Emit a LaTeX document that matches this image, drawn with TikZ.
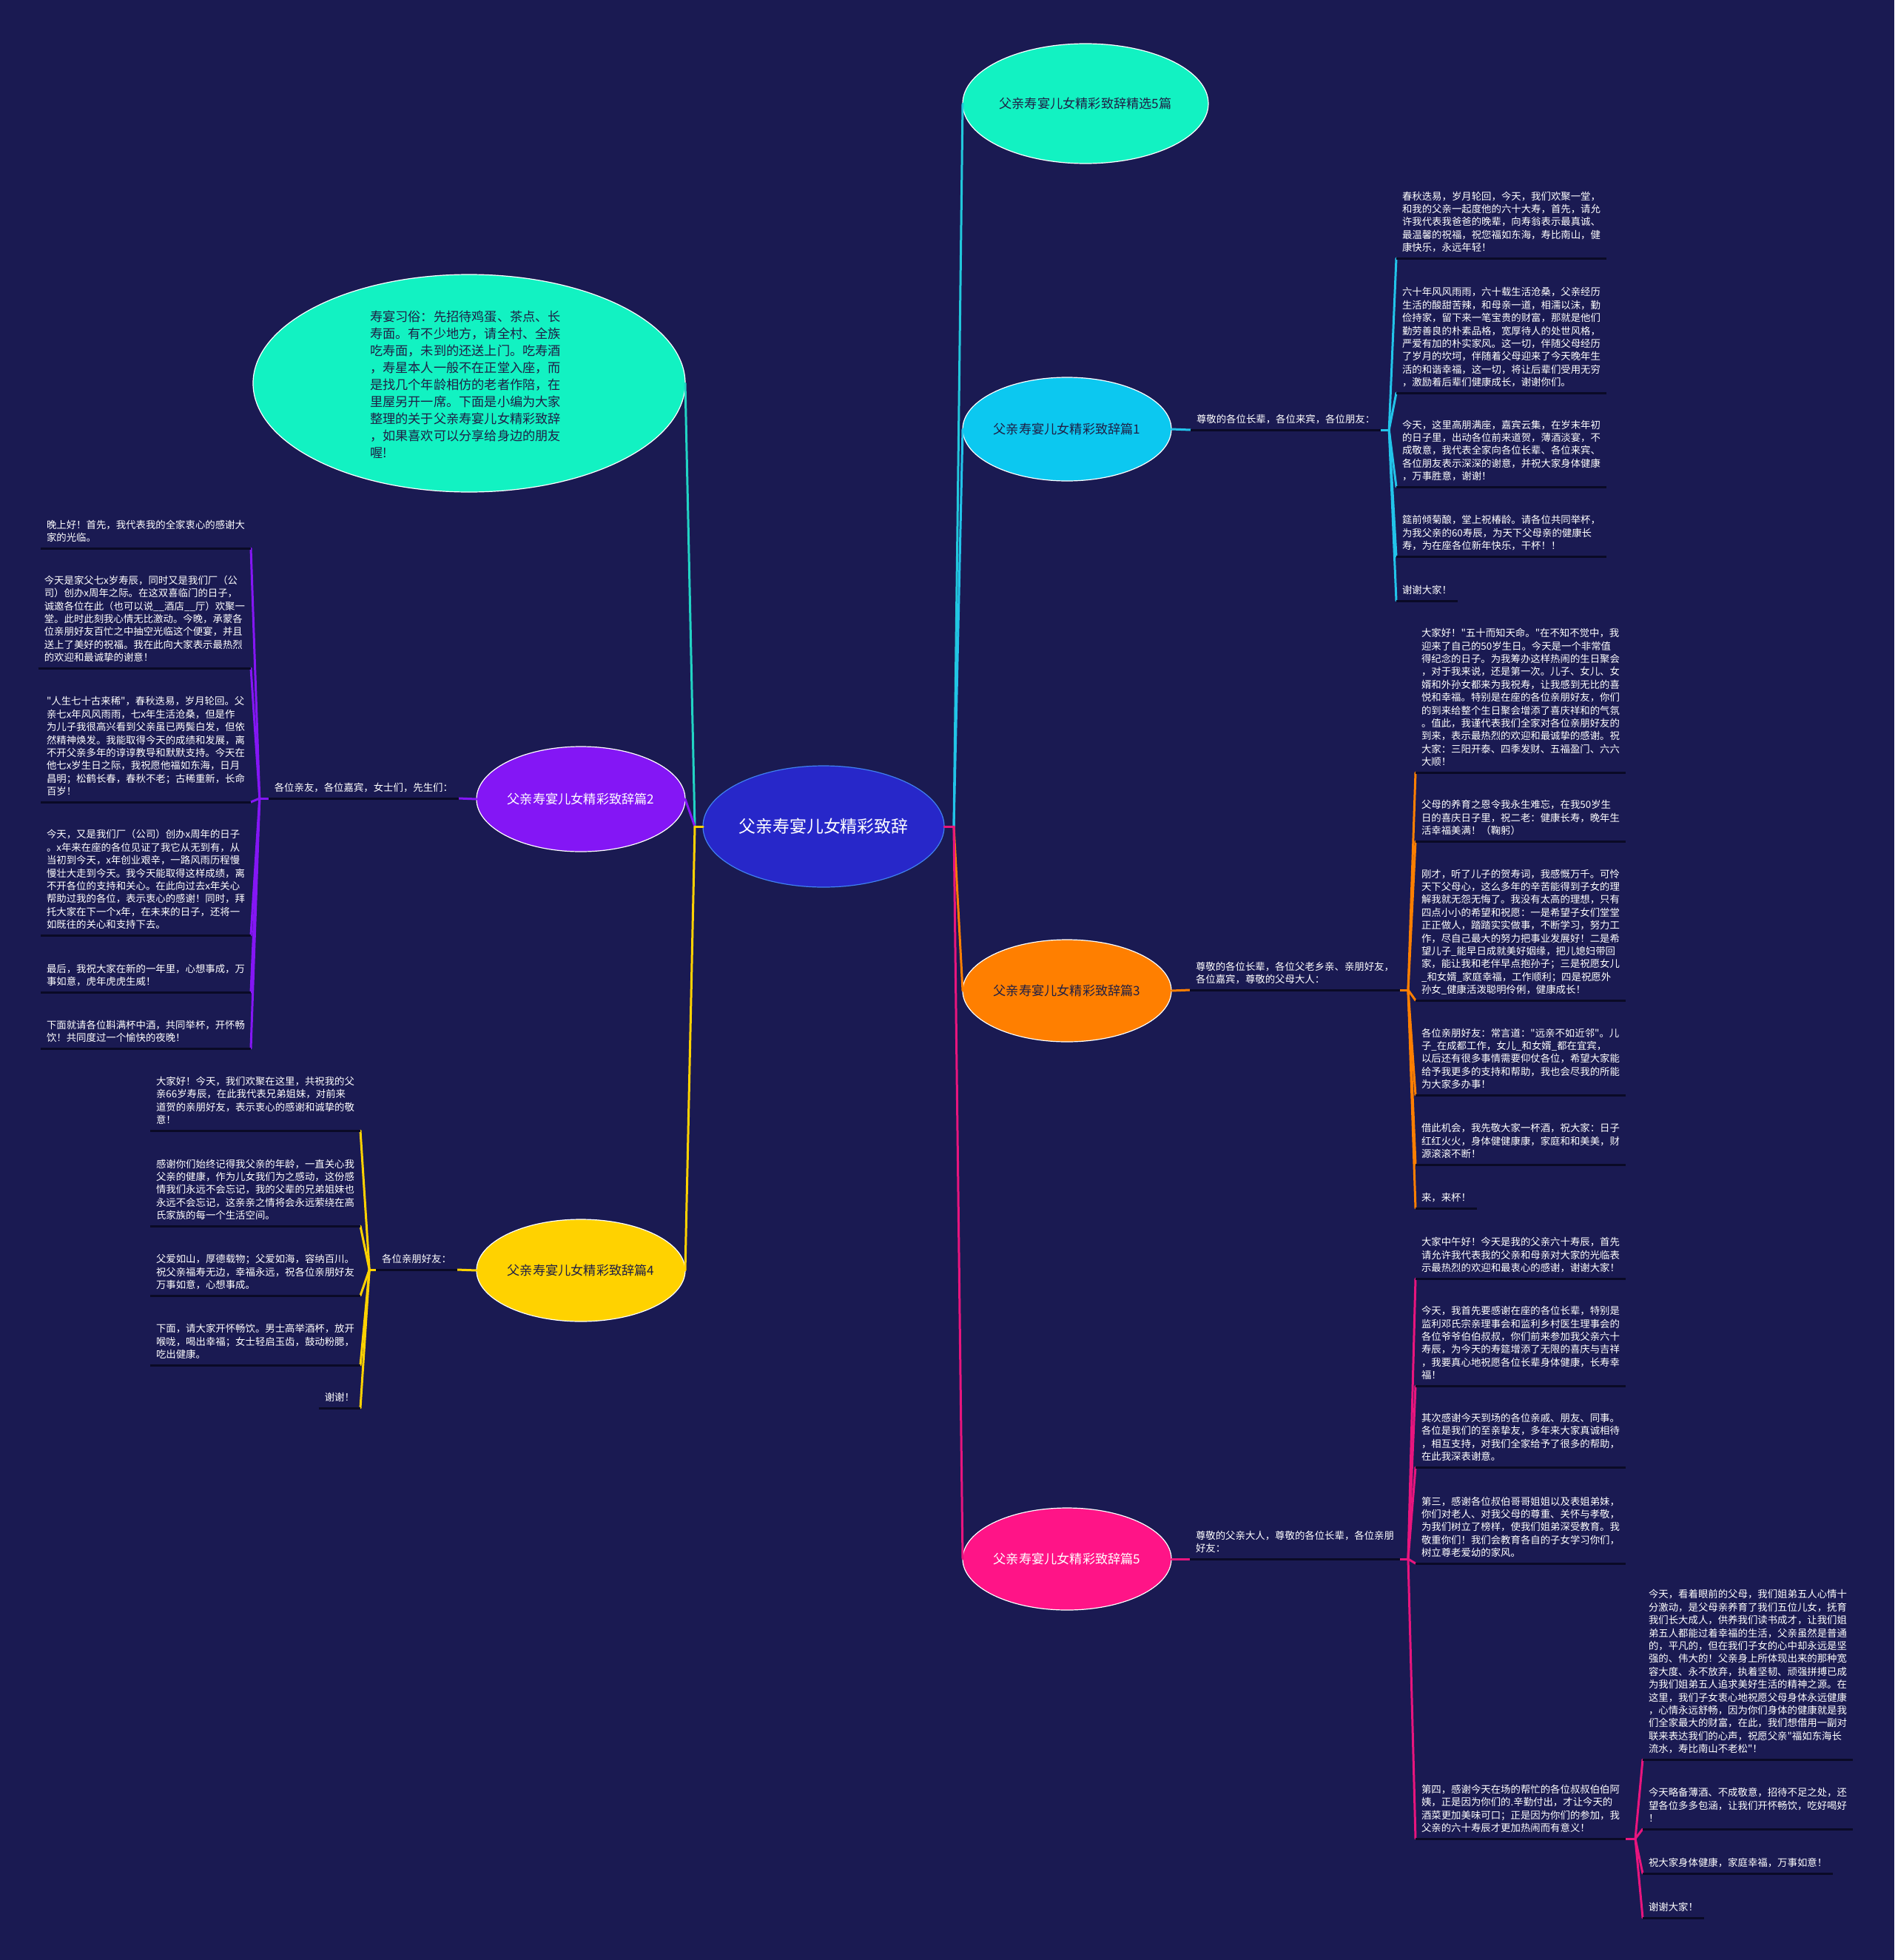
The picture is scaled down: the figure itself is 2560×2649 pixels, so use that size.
\documentclass[tikz,border=0pt]{standalone}
\usepackage{fontspec}
\setmainfont{Noto Sans CJK SC}[Ligatures=TeXOff]
\usetikzlibrary{shapes.geometric,calc}
\definecolor{bg}{HTML}{1A1A52}
\definecolor{cTeal}{HTML}{12F2C2}
\definecolor{cCen}{HTML}{2727C9}
\definecolor{cBord}{HTML}{4080F0}
\definecolor{cOnef}{HTML}{0CC8F0}
\definecolor{cOne}{HTML}{22C4EA}
\definecolor{cTwo}{HTML}{8416F5}
\definecolor{cThree}{HTML}{FF7F00}
\definecolor{cFour}{HTML}{FFD200}
\definecolor{cFivef}{HTML}{FF1487}
\definecolor{cFive}{HTML}{E8157E}
\definecolor{cTopL}{HTML}{22C8DC}
\definecolor{cIntroL}{HTML}{22D4C4}
\definecolor{cInk}{HTML}{1F1F45}
\definecolor{ulc}{HTML}{0A0A26}
\newcommand{\lastdp}{\rule[-9.4pt]{0pt}{9.4pt}}
\begin{document}
\begin{tikzpicture}[x=1pt,y=-1pt,
  ell/.style={ellipse, draw=white, line width=1.2pt, inner sep=0pt, outer sep=0pt, font=\fontsize{17.2}{20}\selectfont},
  blk/.style={inner xsep=8pt, inner ysep=0pt, outer sep=0pt, align=left, text=white, font=\fontsize{13.4}{17.4}\selectfont},
  uline/.style={draw=ulc, line width=3pt},
  conn/.style={line width=3pt, line cap=round},
]
\fill[bg] (0,0) rectangle (2560,2649);
\useasboundingbox (0,0) rectangle (2560,2649);

% ---------- ellipses ----------
\node[ell, draw=cBord, fill=cCen, minimum width=326pt, minimum height=164pt, text=white, font=\fontsize{22.9}{26}\selectfont] (root) at (1113,1117) {父亲寿宴儿女精彩致辞};
\node[ell, fill=cTeal, minimum width=584pt, minimum height=294pt] (intro) at (634,518) {};
\node[align=left, text=cInk, inner sep=0pt, font=\fontsize{17.2}{23}\selectfont] (introtxt) at (629,520) {寿宴习俗：先招待鸡蛋、茶点、长\\寿面。有不少地方，请全村、全族\\吃寿面，未到的还送上门。吃寿酒\\，寿星本人一般不在正堂入座，而\\是找几个年龄相仿的老者作陪，在\\里屋另开一席。下面是小编为大家\\整理的关于父亲寿宴儿女精彩致辞\\，如果喜欢可以分享给身边的朋友\\喔!};
\node[ell, fill=cTeal, minimum width=332pt, minimum height=162pt, text=cInk] (top) at (1467,140) {父亲寿宴儿女精彩致辞精选5篇};
\node[ell, fill=cOnef, minimum width=282pt, minimum height=140pt, text=cInk] (e1) at (1442,580) {父亲寿宴儿女精彩致辞篇1};
\node[ell, fill=cTwo, minimum width=282pt, minimum height=142pt, text=white] (e2) at (785,1080) {父亲寿宴儿女精彩致辞篇2};
\node[ell, fill=cThree, minimum width=282pt, minimum height=138pt, text=cInk] (e3) at (1442,1339) {父亲寿宴儿女精彩致辞篇3};
\node[ell, fill=cFour, minimum width=282pt, minimum height=138pt, text=cInk] (e4) at (785,1717) {父亲寿宴儿女精彩致辞篇4};
\node[ell, fill=cFivef, minimum width=282pt, minimum height=138pt, text=white] (e5) at (1442,2107) {父亲寿宴儿女精彩致辞篇5};

% ---------- labels ----------
\node[blk, anchor=south west] (l1) at (1609,581) {尊敬的各位长辈，各位来宾，各位朋友：\lastdp};
\node[blk, anchor=south east] (l2) at (620,1079) {各位亲友，各位嘉宾，女士们，先生们：\lastdp};
\node[blk, anchor=south west] (l3) at (1608,1338) {尊敬的各位长辈，各位父老乡亲、亲朋好友，\\各位嘉宾，尊敬的父母大人：\lastdp};
\node[blk, anchor=south east] (l4) at (618,1716) {各位亲朋好友：\lastdp};
\node[blk, anchor=south west] (l5) at (1608,2107) {尊敬的父亲大人，尊敬的各位长辈，各位亲朋\\好友：\lastdp};
\coordinate (f1) at ([xshift=11pt]l1.south east);
\coordinate (f2) at ([xshift=-12pt]l2.south west);
\coordinate (f3) at ([xshift=11pt]l3.south east);
\coordinate (f4) at ([xshift=-9pt]l4.south west);
\coordinate (f5) at ([xshift=11pt]l5.south east);

% ---------- branch 1 ----------
\node[blk, anchor=south west] (b1a) at (1887,349) {春秋迭易，岁月轮回，今天，我们欢聚一堂，\\和我的父亲一起度他的六十大寿，首先，请允\\许我代表我爸爸的晚辈，向寿翁表示最真诚、\\最温馨的祝福，祝您福如东海，寿比南山，健\\康快乐，永远年轻！\lastdp};
\node[blk, anchor=south west] (b1b) at (1887,531) {六十年风风雨雨，六十载生活沧桑，父亲经历\\生活的酸甜苦辣，和母亲一道，相濡以沫，勤\\俭持家，留下来一笔宝贵的财富，那就是他们\\勤劳善良的朴素品格，宽厚待人的处世风格，\\严爱有加的朴实家风。这一切，伴随父母经历\\了岁月的坎坷，伴随着父母迎来了今天晚年生\\活的和谐幸福，这一切，将让后辈们受用无穷\\，激励着后辈们健康成长，谢谢你们。\lastdp};
\node[blk, anchor=south west] (b1c) at (1887,658) {今天，这里高朋满座，嘉宾云集，在岁末年初\\的日子里，出动各位前来道贺，薄酒淡宴，不\\成敬意，我代表全家向各位长辈、各位来宾、\\各位朋友表示深深的谢意，并祝大家身体健康\\，万事胜意，谢谢！\lastdp};
\node[blk, anchor=south west] (b1d) at (1887,752) {筵前倾菊酿，堂上祝椿龄。请各位共同举杯，\\为我父亲的60寿辰，为天下父母亲的健康长\\寿，为在座各位新年快乐，干杯！！\lastdp};
\node[blk, anchor=south west] (b1e) at (1887,812) {谢谢大家！\lastdp};

% ---------- branch 2 ----------
\node[blk, anchor=south east] (b2a) at (339,741) {晚上好！首先，我代表我的全家衷心的感谢大\\家的光临。\lastdp};
\node[blk, anchor=south east] (b2b) at (339,903) {今天是家父七x岁寿辰，同时又是我们厂（公\\司）创办x周年之际。在这双喜临门的日子，\\诚邀各位在此（也可以说\_\_酒店\_\_厅）欢聚一\\堂。此时此刻我心情无比激动。今晚，承蒙各\\位亲朋好友百忙之中抽空光临这个便宴，并且\\送上了美好的祝福。我在此向大家表示最热烈\\的欢迎和最诚挚的谢意！\lastdp};
\node[blk, anchor=south east] (b2c) at (339,1084) {"人生七十古来稀"，春秋迭易，岁月轮回。父\\亲七x年风风雨雨，七x年生活沧桑，但是作\\为儿子我很高兴看到父亲虽已两鬓白发，但依\\然精神焕发。我能取得今天的成绩和发展，离\\不开父亲多年的谆谆教导和默默支持。今天在\\他七x岁生日之际，我祝愿他福如东海，日月\\昌明；松鹤长春，春秋不老；古稀重新，长命\\百岁！\lastdp};
\node[blk, anchor=south east] (b2d) at (339,1264) {今天，又是我们厂（公司）创办x周年的日子\\。x年来在座的各位见证了我它从无到有，从\\当初到今天，x年创业艰辛，一路风雨历程慢\\慢壮大走到今天。我今天能取得这样成绩，离\\不开各位的支持和关心。在此向过去x年关心\\帮助过我的各位，表示衷心的感谢！同时，拜\\托大家在下一个x年，在未来的日子，还将一\\如既往的关心和支持下去。\lastdp};
\node[blk, anchor=south east] (b2e) at (339,1341) {最后，我祝大家在新的一年里，心想事成，万\\事如意，虎年虎虎生威！\lastdp};
\node[blk, anchor=south east] (b2f) at (339,1417) {下面就请各位斟满杯中酒，共同举杯，开怀畅\\饮！共同度过一个愉快的夜晚！\lastdp};

% ---------- branch 3 ----------
\node[blk, anchor=south west] (b3a) at (1913,1044) {大家好！"五十而知天命。"在不知不觉中，我\\迎来了自己的50岁生日。今天是一个非常值\\得纪念的日子。为我筹办这样热闹的生日聚会\\，对于我来说，还是第一次。儿子、女儿、女\\婿和外孙女都来为我祝寿，让我感到无比的喜\\悦和幸福。特别是在座的各位亲朋好友，你们\\的到来给整个生日聚会增添了喜庆祥和的气氛\\。值此，我谨代表我们全家对各位亲朋好友的\\到来，表示最热烈的欢迎和最诚挚的感谢。祝\\大家：三阳开泰、四季发财、五福盈门、六六\\大顺！\lastdp};
\node[blk, anchor=south west] (b3b) at (1913,1137) {父母的养育之恩令我永生难忘，在我50岁生\\日的喜庆日子里，祝二老：健康长寿，晚年生\\活幸福美满！（鞠躬）\lastdp};
\node[blk, anchor=south west] (b3c) at (1913,1352) {刚才，听了儿子的贺寿词，我感慨万千。可怜\\天下父母心，这么多年的辛苦能得到子女的理\\解我就无怨无悔了。我没有太高的理想，只有\\四点小小的希望和祝愿：一是希望子女们堂堂\\正正做人，踏踏实实做事，不断学习，努力工\\作，尽自己最大的努力把事业发展好！二是希\\望儿子\_能早日成就美好姻缘，把儿媳妇带回\\家，能让我和老伴早点抱孙子；三是祝愿女儿\\\_和女婿\_家庭幸福，工作顺利；四是祝愿外\\孙女\_健康活泼聪明伶俐，健康成长！\lastdp};
\node[blk, anchor=south west] (b3d) at (1913,1480) {各位亲朋好友：常言道："远亲不如近邻"。儿\\子\_在成都工作，女儿\_和女婿\_都在宜宾，\\以后还有很多事情需要仰仗各位，希望大家能\\给予我更多的支持和帮助，我也会尽我的所能\\为大家多办事！\lastdp};
\node[blk, anchor=south west] (b3e) at (1913,1574) {借此机会，我先敬大家一杯酒，祝大家：日子\\红红火火，身体健健康康，家庭和和美美，财\\源滚滚不断！\lastdp};
\node[blk, anchor=south west] (b3f) at (1913,1633) {来，来杯！\lastdp};

% ---------- branch 4 ----------
\node[blk, anchor=south east] (b4a) at (487,1528) {大家好！今天，我们欢聚在这里，共祝我的父\\亲66岁寿辰，在此我代表兄弟姐妹，对前来\\道贺的亲朋好友，表示衷心的感谢和诚挚的敬\\意！\lastdp};
\node[blk, anchor=south east] (b4b) at (487,1657) {感谢你们始终记得我父亲的年龄，一直关心我\\父亲的健康，作为儿女我们为之感动，这份感\\情我们永远不会忘记，我的父辈的兄弟姐妹也\\永远不会忘记，这亲亲之情将会永远萦绕在高\\氏家族的每一个生活空间。\lastdp};
\node[blk, anchor=south east] (b4c) at (487,1751) {父爱如山，厚德载物；父爱如海，容纳百川。\\祝父亲福寿无边，幸福永远，祝各位亲朋好友\\万事如意，心想事成。\lastdp};
\node[blk, anchor=south east] (b4d) at (487,1845) {下面，请大家开怀畅饮。男士高举酒杯，放开\\喉咙，喝出幸福；女士轻启玉齿，鼓动粉腮，\\吃出健康。\lastdp};
\node[blk, anchor=south east] (b4e) at (487,1903) {谢谢！\lastdp};

% ---------- branch 5 ----------
\node[blk, anchor=south west] (b5a) at (1913,1728) {大家中午好！今天是我的父亲六十寿辰，首先\\请允许我代表我的父亲和母亲对大家的光临表\\示最热烈的欢迎和最衷心的感谢，谢谢大家！\lastdp};
\node[blk, anchor=south west] (b5b) at (1913,1873) {今天，我首先要感谢在座的各位长辈，特别是\\监利邓氏宗亲理事会和监利乡村医生理事会的\\各位爷爷伯伯叔叔，你们前来参加我父亲六十\\寿辰，为今天的寿筵增添了无限的喜庆与吉祥\\，我要真心地祝愿各位长辈身体健康，长寿幸\\福！\lastdp};
\node[blk, anchor=south west] (b5c) at (1913,1983) {其次感谢今天到场的各位亲戚、朋友、同事。\\各位是我们的至亲挚友，多年来大家真诚相待\\，相互支持，对我们全家给予了很多的帮助，\\在此我深表谢意。\lastdp};
\node[blk, anchor=south west] (b5d) at (1913,2113) {第三，感谢各位叔伯哥哥姐姐以及表姐弟妹，\\你们对老人、对我父母的尊重、关怀与孝敬，\\为我们树立了榜样，使我们姐弟深受教育。我\\敬重你们！我们会教育各自的子女学习你们，\\树立尊老爱幼的家风。\lastdp};
\node[blk, anchor=south west] (b5e) at (1913,2485) {第四，感谢今天在场的帮忙的各位叔叔伯伯阿\\姨，正是因为你们的.辛勤付出，才让今天的\\酒菜更加美味可口；正是因为你们的参加，我\\父亲的六十寿辰才更加热闹而有意义！\lastdp};
\coordinate (f6) at ([xshift=13pt]b5e.south east);
\node[blk, anchor=south west] (b5f) at (2220,2378) {今天，看着眼前的父母，我们姐弟五人心情十\\分激动，是父母亲养育了我们五位儿女，抚育\\我们长大成人，供养我们读书成才，让我们姐\\弟五人都能过着幸福的生活，父亲虽然是普通\\的，平凡的，但在我们子女的心中却永远是坚\\强的、伟大的！父亲身上所体现出来的那种宽\\容大度、永不放弃，执着坚韧、顽强拼搏已成\\为我们姐弟五人追求美好生活的精神之源。在\\这里，我们子女衷心地祝愿父母身体永远健康\\，心情永远舒畅，因为你们身体的健康就是我\\们全家最大的财富，在此，我们想借用一副对\\联来表达我们的心声，祝愿父亲"福如东海长\\流水，寿比南山不老松"！\lastdp};
\node[blk, anchor=south west] (b5g) at (2220,2472) {今天略备薄酒、不成敬意，招待不足之处，还\\望各位多多包涵，让我们开怀畅饮，吃好喝好\\！\lastdp};
\node[blk, anchor=south west] (b5h) at (2220,2532) {祝大家身体健康，家庭幸福，万事如意！\lastdp};
\node[blk, anchor=south west] (b5i) at (2220,2592) {谢谢大家！\lastdp};

% ---------- connectors from root ----------
\coordinate (cr) at (1289,1117);
\coordinate (cl) at (939,1117);
\draw[conn, cTopL] (cr) -- (top.west);
\draw[conn, cOne] (cr) -- (e1.west);
\draw[conn, cThree] (cr) -- (e3.west);
\draw[conn, cFive] (cr) -- (e5.west);
\draw[conn, cFive] (root.east) -- (cr);
\draw[conn, cIntroL] (cl) -- (intro.east);
\draw[conn, cTwo] (cl) -- (e2.east);
\draw[conn, cFour] (cl) -- (e4.east);
\draw[conn, cFour] (root.west) -- (cl);

% ---------- branch connectors ----------
\draw[conn, cOne] (e1.east) -- (l1.south west);
\draw[conn, cOne] (l1.south east) -- (f1);
\foreach \nm in {b1a,b1b,b1c,b1d,b1e} \draw[conn, cOne] (f1) -- (\nm.south west);

\draw[conn, cTwo] (e2.west) -- (l2.south east);
\draw[conn, cTwo] (l2.south west) -- (f2);
\foreach \nm in {b2a,b2b,b2c,b2d,b2e,b2f} \draw[conn, cTwo] (f2) -- (\nm.south east);

\draw[conn, cThree] (e3.east) -- (l3.south west);
\draw[conn, cThree] (l3.south east) -- (f3);
\foreach \nm in {b3a,b3b,b3c,b3d,b3e,b3f} \draw[conn, cThree] (f3) -- (\nm.south west);

\draw[conn, cFour] (e4.west) -- (l4.south east);
\draw[conn, cFour] (l4.south west) -- (f4);
\foreach \nm in {b4a,b4b,b4c,b4d,b4e} \draw[conn, cFour] (f4) -- (\nm.south east);

\draw[conn, cFive] (e5.east) -- (l5.south west);
\draw[conn, cFive] (l5.south east) -- (f5);
\foreach \nm in {b5a,b5b,b5c,b5d,b5e} \draw[conn, cFive] (f5) -- (\nm.south west);
\draw[conn, cFive] (b5e.south east) -- (f6);
\foreach \nm in {b5f,b5g,b5h,b5i} \draw[conn, cFive] (f6) -- (\nm.south west);

% ---------- underlines ----------
\foreach \nm in {l1,l2,l3,l4,l5,b1a,b1b,b1c,b1d,b1e,b2a,b2b,b2c,b2d,b2e,b2f,b3a,b3b,b3c,b3d,b3e,b3f,b4a,b4b,b4c,b4d,b4e,b5a,b5b,b5c,b5d,b5e,b5f,b5g,b5h,b5i}
  \draw[uline] (\nm.south west) -- (\nm.south east);
\end{tikzpicture}
\end{document}
